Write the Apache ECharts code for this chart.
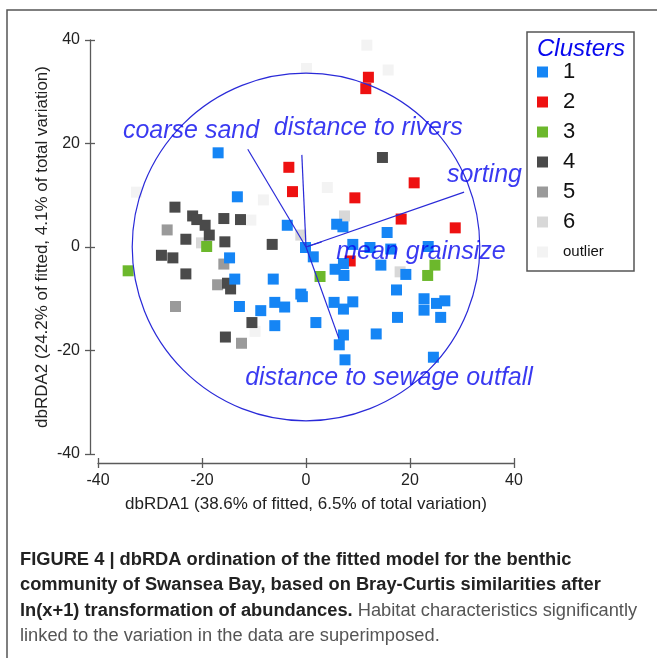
<!DOCTYPE html>
<html><head><meta charset="utf-8">
<script src="https://cdn.jsdelivr.net/npm/echarts@6/dist/echarts.min.js"></script>
<style>html,body{margin:0;padding:0;background:#fff}#c{width:657px;height:658px}</style>
</head><body><div id="c"></div>
<script>
// ---------- data ----------
const clusterNames = ['1', '2', '3', '4', '5', '6', 'outlier'];
const clusterColors = ['#1585f5', '#ee1111', '#6cb82c', '#4a4a4a', '#9a9a9a', '#d8d8d8', '#f3f3f3'];

const cluster1 = [[-16.9,18.2],[-13.2,9.7],[-3.6,4.2],[-0.1,-0.1],[1.4,-1.9],[-14.7,-2.1],[-13.7,-6.2],[-6.3,-6.2],
  [-1.0,-9.1],[-0.7,-9.6],[-12.8,-11.5],[-8.7,-12.3],[-6.0,-10.7],[-4.1,-11.6],[1.9,-14.6],[-6.0,-15.2],
  [5.9,4.4],[7.1,3.9],[15.6,2.8],[9.0,0.5],[12.3,-0.1],[16.3,-0.4],[23.5,0.1],[5.6,-4.3],[7.2,-3.2],[7.3,-5.5],
  [14.4,-3.5],[19.2,-5.3],[17.4,-8.3],[5.4,-10.7],[7.2,-12.0],[9.0,-10.6],[22.7,-10.0],[22.7,-12.2],[25.1,-10.9],
  [26.7,-10.4],[25.9,-13.6],[17.6,-13.6],[13.5,-16.8],[7.2,-17.0],[6.4,-18.9],[7.5,-21.8],[24.5,-21.3]];
const cluster2 = [[-3.3,15.4],[-2.6,10.7],[12.0,32.8],[11.5,30.6],[20.8,12.4],[9.4,9.5],[18.3,5.4],[28.7,3.7],[8.5,-2.7]];
const cluster3 = [[-19.1,0.1],[-34.2,-4.6],[2.7,-5.7],[24.8,-3.5],[23.4,-5.5]];
const cluster4 = [[-25.2,7.7],[-21.8,6.0],[-21.0,5.3],[-19.4,4.2],[-18.6,2.3],[-15.8,5.5],[-12.6,5.3],[-23.1,1.5],
  [-15.6,1.0],[-6.5,0.5],[-27.8,-1.6],[-25.6,-2.1],[-23.1,-5.2],[-15.1,-7.0],[-14.5,-8.1],[-10.4,-14.6],[-15.5,-17.4],[14.7,17.3]];
const cluster5 = [[-26.7,3.3],[-15.8,-3.3],[-17.0,-7.3],[-25.1,-11.5],[-12.4,-18.6]];
const cluster6 = [[-20.1,0.8],[-1.0,2.3],[7.4,6.0],[18.1,-4.8]];
const outliers = [[-32.6,10.6],[-8.2,9.1],[-10.6,5.2],[-9.8,-16.3],[11.7,39.0],[0.1,34.5],[15.8,34.2],[4.1,11.5]];

const vectorNames = ['coarse sand', 'distance to rivers', 'sorting', 'mean grainsize', 'distance to sewage outfall'];
const vectorEnds = [[-11.2,18.9],[-0.8,17.8],[30.4,10.6],[3.0,1.0],[6.3,-17.6]];
const vectorLabelPos = [[-35.2,22.4],[-6.2,23.0],[27.1,13.9],[5.8,-1.0],[-11.7,-25.3]];
const circleRadius = 33.5;

const axisMin = -40, axisMax = 40, axisStep = 20;
const xAxisTitle = 'dbRDA1 (38.6% of fitted, 6.5% of total variation)';
const yAxisTitle = 'dbRDA2 (24.2% of fitted, 4.1% of total variation)';
const legendTitle = 'Clusters';
const captionLines = [
  [['b', 'FIGURE 4 | dbRDA ordination of the fitted model for the benthic']],
  [['b', 'community of Swansea Bay, based on Bray-Curtis similarities after']],
  [['b', 'ln(x+1) transformation of abundances.'], ['r', ' Habitat characteristics significantly']],
  [['r', 'linked to the variation in the data are superimposed.']]
];

// ---------- chart ----------
const FF = '"Liberation Sans", Arial, Helvetica, sans-serif';
const clusterData = [cluster1, cluster2, cluster3, cluster4, cluster5, cluster6, outliers];
const chart = echarts.init(document.getElementById('c'), null, {renderer: 'canvas'});

const axisCol = '#5a5a5a';
function mkAxis(isX, main) {
  const a = {
    type: 'value', min: axisMin, max: axisMax, interval: axisStep,
    position: isX ? 'bottom' : 'left', offset: isX ? 9 : 8,
    splitLine: {show: false},
    axisLine: {show: main, onZero: false, lineStyle: {color: axisCol, width: 1.3}},
    axisTick: {show: true, inside: !main, length: 5, lineStyle: {color: axisCol, width: 1.3}},
    axisLabel: {show: main, margin: 10, fontSize: 16, color: '#222', fontFamily: FF}
  };
  if (main) {
    a.name = isX ? xAxisTitle : yAxisTitle;
    a.nameLocation = 'middle';
    a.nameMoveOverlap = false;
    a.nameGap = isX ? 33 : 39;
    a.nameTextStyle = {fontSize: 17, color: '#222', fontFamily: FF};
  }
  return a;
}

const series = [];
// draw outliers first, cluster 1 last (on top)
for (let i = clusterData.length - 1; i >= 0; i--) {
  series.push({
    name: clusterNames[i], type: 'scatter', symbol: 'rect', symbolSize: 11,
    data: clusterData[i], itemStyle: {color: clusterColors[i], opacity: 1},
    emphasis: {disabled: true}, z: 2
  });
}
series.push({
  type: 'custom', silent: true, z: 5, clip: false,
  data: [[0, 0, circleRadius]],
  renderItem(params, api) {
    const c = api.coord([api.value(0), api.value(1)]);
    const s = api.size([api.value(2), api.value(2)]);
    return {type: 'circle', shape: {cx: c[0], cy: c[1], r: (s[0] + s[1]) / 2},
      style: {fill: null, stroke: '#2a2ad8', lineWidth: 1.2}};
  }
});
series.push({
  type: 'custom', silent: true, z: 5, clip: false,
  data: vectorEnds,
  renderItem(params, api) {
    const o = api.coord([0, 0]);
    const e = api.coord([api.value(0), api.value(1)]);
    return {type: 'line', shape: {x1: o[0], y1: o[1], x2: e[0], y2: e[1]},
      style: {stroke: '#2a2ad8', lineWidth: 1.2}};
  }
});
series.push({
  type: 'scatter', silent: true, z: 6, symbolSize: 0,
  data: vectorLabelPos.map((p, i) => ({value: p, name: vectorNames[i]})),
  label: {show: true, formatter: '{b}', position: [0, 0], align: 'left', verticalAlign: 'middle',
    fontSize: 25, fontStyle: 'italic', color: '#0808ee', fontFamily: FF}
});

const graphics = [
  {type: 'polyline', shape: {points: [[7, 658], [7, 10], [657, 10]]}, style: {fill: null, stroke: '#555', lineWidth: 1.5}, z: 10},
  {type: 'rect', shape: {x: 527, y: 32, width: 107, height: 239}, style: {fill: '#fff', stroke: '#555', lineWidth: 1.5}, z: 0},
  {type: 'text', x: 537, y: 49, style: {text: legendTitle, font: 'italic 24px ' + FF, fill: '#0808ee', verticalAlign: 'middle'}, z: 10}
];
const captionY = [560, 585, 611, 636];
captionLines.forEach((line, i) => {
  graphics.push({
    type: 'text', x: 20, y: captionY[i], z: 10,
    style: {
      text: line.map(seg => '{' + seg[0] + '|' + seg[1] + '}').join(''),
      verticalAlign: 'middle',
      rich: {
        b: {fontSize: 18.3, fontWeight: 'bold', fill: '#222', fontFamily: FF},
        r: {fontSize: 18.3, fontWeight: 'normal', fill: '#555', fontFamily: FF}
      }
    }
  });
});

chart.setOption({
  animation: false,
  backgroundColor: '#fff',
  grid: {left: 98, right: 143, top: 40, bottom: 204, containLabel: false},
  xAxis: [mkAxis(true, true), mkAxis(true, false)],
  yAxis: [mkAxis(false, true), mkAxis(false, false)],
  legend: {
    data: clusterNames, orient: 'vertical', left: 537, top: 61, padding: 0,
    itemWidth: 11, itemHeight: 11, itemGap: 8, icon: 'rect', selectedMode: false,
    textStyle: {fontSize: 22, lineHeight: 22, color: '#111', fontFamily: FF, padding: [0, 0, 0, 10],
      rich: {o: {fontSize: 15, lineHeight: 22, color: '#111', fontFamily: FF}}},
    formatter: n => n === 'outlier' ? '{o|outlier}' : n
  },
  graphic: graphics,
  series: series
});
</script></body></html>
